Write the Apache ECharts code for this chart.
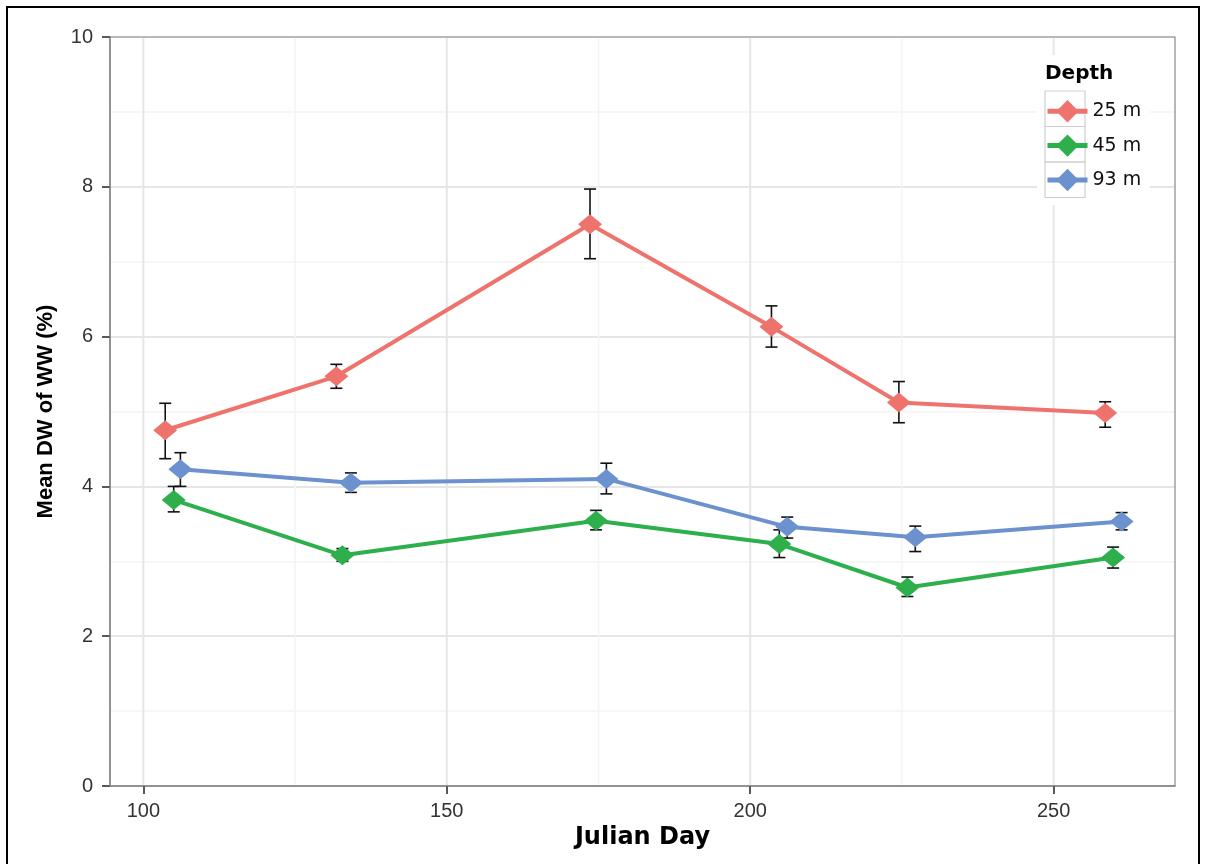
<!DOCTYPE html>
<html>
<head>
<meta charset="utf-8">
<title>Mean DW of WW by Julian Day</title>
<script src="https://cdn.jsdelivr.net/npm/echarts@6/dist/echarts.min.js"></script>
<style>
  html, body { margin: 0; padding: 0; background: #fff; }
  #chart { width: 1206px; height: 864px; }
</style>
</head>
<body>
<div id="chart"></div>
<script>
// Depth groups
const depths = ['25 m', '45 m', '93 m'];
const colors = ['#EE736C', '#2DAF4B', '#6B92CE'];

// Julian day of each sample (points slightly dodged per depth)
const days25 = [103.6, 131.8, 173.6, 203.5, 224.5, 258.5];
const days45 = [105.0, 132.8, 174.6, 204.8, 225.9, 259.8];
const days93 = [106.1, 134.2, 176.3, 206.1, 227.2, 261.2];

// Mean DW as % of WW
const mean25 = [4.75, 5.47, 7.50, 6.13, 5.12, 4.98];
const mean45 = [3.82, 3.08, 3.54, 3.23, 2.65, 3.05];
const mean93 = [4.23, 4.05, 4.10, 3.46, 3.32, 3.53];

// Error bar limits
const lo25 = [4.37, 5.31, 7.04, 5.86, 4.85, 4.79];
const hi25 = [5.11, 5.63, 7.97, 6.41, 5.40, 5.13];
const lo45 = [3.66, 3.00, 3.42, 3.05, 2.53, 2.91];
const hi45 = [4.00, 3.17, 3.68, 3.42, 2.79, 3.19];
const lo93 = [4.00, 3.92, 3.90, 3.31, 3.13, 3.42];
const hi93 = [4.45, 4.18, 4.31, 3.59, 3.47, 3.65];

// X axis breaks
const xTicks = [100, 150, 200, 250];
const xMinorTicks = [125, 175, 225];

const xMin = 94.5, xMax = 270;
const yMin = 0, yMax = 10;

const days = [days25, days45, days93];
const means = [mean25, mean45, mean93];
const los = [lo25, lo45, lo93];
const his = [hi25, hi45, hi93];

const sansFont = 'Liberation Sans, Arial, sans-serif';
const wideFont = 'DejaVu Sans, Verdana, sans-serif';

// vertical grid lines drawn through the x scale
const gridSeries = {
  type: 'custom',
  silent: true,
  z: 0,
  data: xMinorTicks.map(v => [v, 0]).concat(xTicks.map(v => [v, 1])),
  renderItem: function (params, api) {
    const x = api.value(0);
    const major = api.value(1) === 1;
    const top = api.coord([x, yMax]);
    const bot = api.coord([x, yMin]);
    return {
      type: 'line',
      shape: { x1: top[0], y1: top[1], x2: bot[0], y2: bot[1] },
      style: { stroke: major ? '#e6e6e6' : '#f4f4f4', lineWidth: major ? 2 : 1.5 }
    };
  }
};

function errorSeries(i) {
  return {
    type: 'custom',
    name: depths[i] + ' error',
    silent: true,
    z: 3,
    data: days[i].map((d, k) => [d, los[i][k], his[i][k]]),
    renderItem: function (params, api) {
      const x = api.value(0);
      const p1 = api.coord([x, api.value(1)]);
      const p2 = api.coord([x, api.value(2)]);
      const hw = 6;
      const st = { stroke: '#111', lineWidth: 1.6 };
      return {
        type: 'group',
        children: [
          { type: 'line', shape: { x1: p1[0], y1: p1[1], x2: p2[0], y2: p2[1] }, style: st },
          { type: 'line', shape: { x1: p1[0] - hw, y1: p1[1], x2: p1[0] + hw, y2: p1[1] }, style: st },
          { type: 'line', shape: { x1: p2[0] - hw, y1: p2[1], x2: p2[0] + hw, y2: p2[1] }, style: st }
        ]
      };
    }
  };
}

function lineSeries(i) {
  return {
    type: 'line',
    name: depths[i],
    z: 5,
    data: days[i].map((d, k) => [d, means[i][k]]),
    symbol: 'diamond',
    symbolSize: [24, 20],
    showAllSymbol: true,
    itemStyle: { color: colors[i] },
    lineStyle: { color: colors[i], width: 4 },
    emphasis: { disabled: true },
    animation: false
  };
}

const chart = echarts.init(document.getElementById('chart'), null, { renderer: 'canvas' });

const option = {
  animation: false,
  backgroundColor: '#fff',
  grid: { left: 110, right: 31, top: 37, bottom: 78, containLabel: false },
  xAxis: {
    type: 'value',
    min: xMin,
    max: xMax,
    name: 'Julian Day',
    nameLocation: 'middle',
    nameGap: 38,
    nameTextStyle: { fontFamily: wideFont, fontSize: 24, fontWeight: 'bold', color: '#000' },
    axisLine: { show: true, onZero: false, lineStyle: { color: '#7f7f7f', width: 1.5 } },
    axisTick: { show: true, length: 8, customValues: xTicks, lineStyle: { color: '#222', width: 1.5 } },
    axisLabel: { customValues: xTicks, margin: 15, fontFamily: sansFont, fontSize: 20, color: '#333' },
    splitLine: { show: false }
  },
  yAxis: {
    type: 'value',
    min: yMin,
    max: yMax,
    interval: 2,
    name: 'Mean DW of WW (%)',
    nameLocation: 'middle',
    nameGap: 53,
    nameTextStyle: { fontFamily: sansFont, fontSize: 22, fontWeight: 'bold', color: '#000' },
    axisLine: { show: true, lineStyle: { color: '#7f7f7f', width: 1.5 } },
    axisTick: { show: true, length: 8, lineStyle: { color: '#222', width: 1.5 } },
    axisLabel: { margin: 17, fontFamily: sansFont, fontSize: 20, color: '#333' },
    splitLine: { show: true, lineStyle: { color: '#e6e6e6', width: 2 } },
    minorTick: { show: false, splitNumber: 2 },
    minorSplitLine: { show: true, lineStyle: { color: '#f4f4f4', width: 1.5 } }
  },
  legend: {
    data: depths,
    orient: 'vertical',
    left: 1045,
    top: 100,
    padding: 0,
    itemWidth: 40,
    itemHeight: 28,
    itemGap: 12,
    selectedMode: false,
    lineStyle: { width: 5 },
    textStyle: { fontFamily: wideFont, fontSize: 19, color: '#111', padding: [0, 0, 0, 0] },
    z: 20
  },
  graphic: [
    { type: 'rect', shape: { x: 7, y: 7, width: 1192, height: 880 }, style: { fill: 'none', stroke: '#000', lineWidth: 2 }, z: 100, silent: true },
    { type: 'rect', shape: { x: 110, y: 37, width: 1065, height: 749 }, style: { fill: 'none', stroke: '#8a8a8a', lineWidth: 1.2 }, z: 1, silent: true },
    // legend background
    { type: 'rect', shape: { x: 1037, y: 55, width: 113, height: 150 }, style: { fill: '#fff' }, z: 10, silent: true },
    { type: 'text', left: 1045, top: 64, style: { text: 'Depth', fontFamily: wideFont, fontSize: 20, fontWeight: 'bold', fill: '#000' }, z: 11, silent: true },
    { type: 'rect', shape: { x: 1045, y: 91, width: 40, height: 35.5 }, style: { fill: 'none', stroke: '#cfcfcf', lineWidth: 1.2 }, z: 11, silent: true },
    { type: 'rect', shape: { x: 1045, y: 126.5, width: 40, height: 35.5 }, style: { fill: 'none', stroke: '#cfcfcf', lineWidth: 1.2 }, z: 11, silent: true },
    { type: 'rect', shape: { x: 1045, y: 162, width: 40, height: 35.5 }, style: { fill: 'none', stroke: '#cfcfcf', lineWidth: 1.2 }, z: 11, silent: true }
  ],
  series: [gridSeries, errorSeries(0), errorSeries(1), errorSeries(2), lineSeries(0), lineSeries(1), lineSeries(2)]
};

chart.setOption(option);
</script>
</body>
</html>
